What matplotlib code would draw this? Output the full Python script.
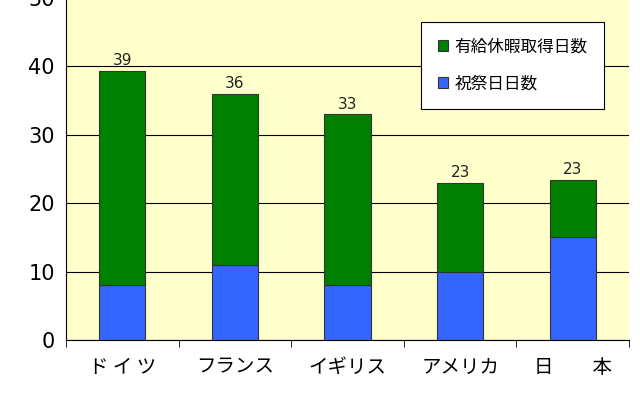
import matplotlib.pyplot as plt
from matplotlib.ticker import FixedLocator

plt.rcParams['font.family'] = ['Noto Sans CJK JP', 'DejaVu Sans']

countries = ['ド イ ツ', 'フランス', 'イギリス', 'アメリカ', '日　　本']
holidays = [8, 11, 8, 10, 15]
paid_leave = [31.3, 25, 25, 13, 8.4]
totals = [39, 36, 33, 23, 23]

fig = plt.figure(figsize=(6.4, 4.0), dpi=100)
ax = fig.add_axes([0.103, 0.15, 0.88, 0.855])
ax.set_facecolor('#FFFFCC')

x = range(len(countries))
ax.bar(x, holidays, width=0.41, color='#3366FF', edgecolor='#333333', linewidth=0.8,
       label='祝祭日日数', zorder=3)
ax.bar(x, paid_leave, width=0.41, bottom=holidays, color='#008000', edgecolor='#333333',
       linewidth=0.8, label='有給休暇取得日数', zorder=3)
for i, t in enumerate(totals):
    ax.text(i, holidays[i] + paid_leave[i] + 0.4, str(t), ha='center', va='bottom', fontsize=11,
            family='DejaVu Sans', color='#222222')

ax.set_xlim(-0.5, 4.5)
ax.set_ylim(0, 50)
ax.set_yticks(range(0, 51, 10))
ax.yaxis.grid(True, color='black', linewidth=0.8, zorder=0)
ax.set_xticks(list(x))
ax.set_xticklabels(countries, fontsize=14)
ax.xaxis.set_minor_locator(FixedLocator([i + 0.5 for i in range(-1, 5)]))
ax.tick_params(axis='x', which='major', length=0, pad=12)
ax.tick_params(axis='x', which='minor', length=5)
ax.tick_params(axis='y', labelsize=15, length=0, pad=8)
for lbl in ax.get_yticklabels():
    lbl.set_family('DejaVu Sans')
for s in ['top', 'right']:
    ax.spines[s].set_visible(False)

h, l = ax.get_legend_handles_labels()
leg = ax.legend(h[::-1], l[::-1], loc='upper right', bbox_to_anchor=(0.97, 0.955),
                fontsize=12, fancybox=False, edgecolor='black', framealpha=1,
                handlelength=0.6, handleheight=0.6, handletextpad=0.4,
                labelspacing=1.2, borderpad=1.0)
leg.get_frame().set_linewidth(0.8)

fig.savefig('out.png')
